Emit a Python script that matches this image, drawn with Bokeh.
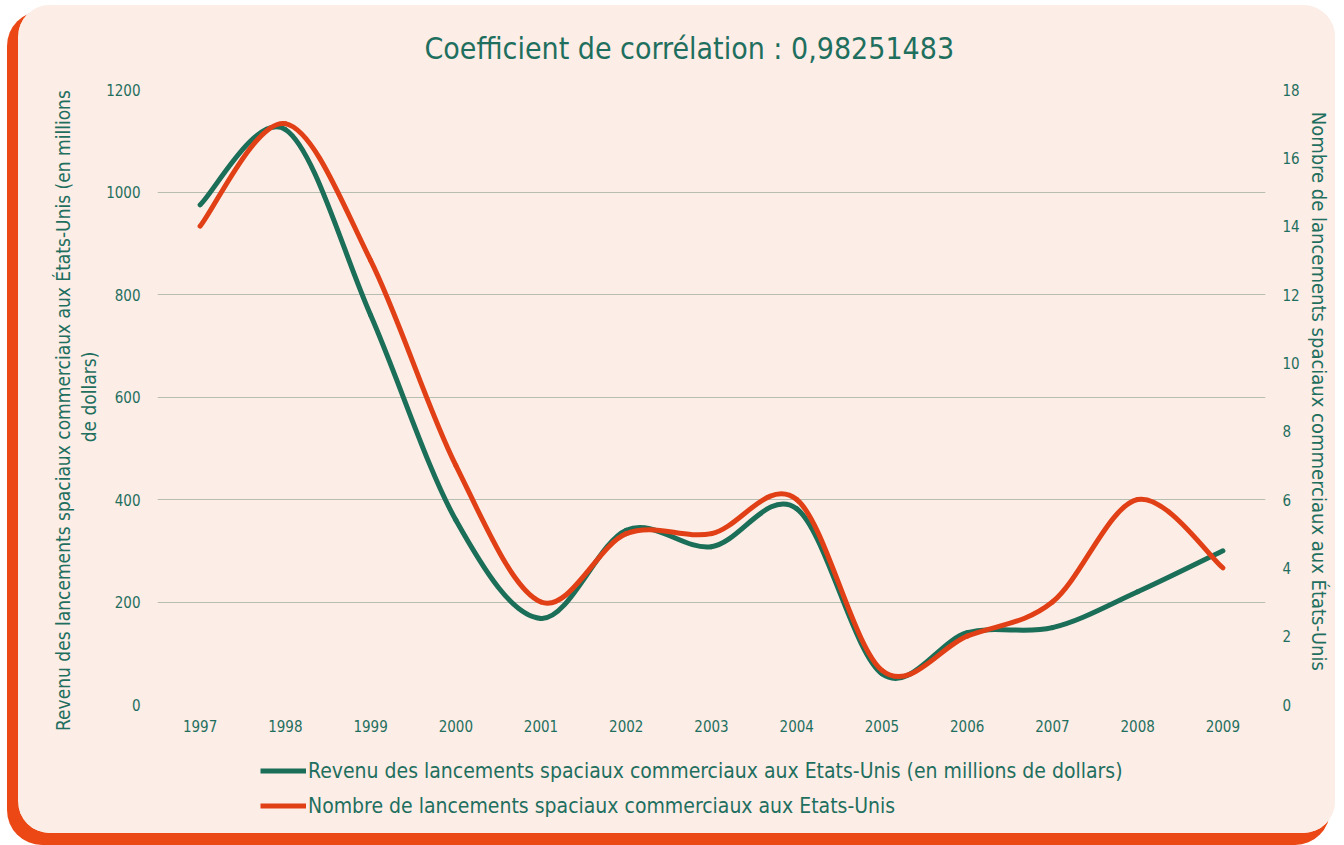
from bokeh.plotting import figure
from bokeh.layouts import column
from bokeh.models import Range1d, LinearAxis, FixedTicker, Legend, LegendItem
from bokeh.embed import file_html
from bokeh.resources import INLINE

# ---------------- data ----------------
years = [1997, 1998, 1999, 2000, 2001, 2002, 2003, 2004, 2005, 2006, 2007, 2008, 2009]
year_labels = [str(y) for y in years]
revenue = [975, 1122, 760, 360, 168, 340, 308, 382, 60, 140, 150, 220, 300]
launches = [14, 17, 13, 7, 3, 5, 5, 6, 1, 2, 3, 6, 4]
left_ticks = [0, 200, 400, 600, 800, 1000, 1200]
right_ticks = [0, 2, 4, 6, 8, 10, 12, 14, 16, 18]
title_text = "Coefficient de corrélation : 0,98251483"
left_label = "Revenu des lancements  spaciaux  commerciaux  aux  États-Unis  (en millions\nde dollars)"
right_label = "Nombre de lancements spaciaux  commerciaux  aux États-Unis"
legend_labels = [
    "Revenu des lancements spaciaux commerciaux aux Etats-Unis (en millions de dollars)",
    "Nombre de lancements spaciaux commerciaux aux Etats-Unis",
]

# ---------------- style ----------------
CARD = "#fcede6"
SHADOW = "#eb4816"
GREEN = "#1b6e58"
RED = "#e14016"
TEXT = "#1f6f5f"
GRID = "#b7bdb1"
FONT = "DejaVu Sans Condensed"
W = 1317


def smooth(xs, ys, t=1.0 / 6.0):
    n = len(xs)
    out = dict(x0=[], y0=[], x1=[], y1=[], cx0=[], cy0=[], cx1=[], cy1=[])
    for i in range(n - 1):
        xp, yp = (xs[i - 1], ys[i - 1]) if i > 0 else (xs[i], ys[i])
        xn, yn = (xs[i + 2], ys[i + 2]) if i + 2 < n else (xs[i + 1], ys[i + 1])
        out["x0"].append(xs[i]); out["y0"].append(ys[i])
        out["x1"].append(xs[i + 1]); out["y1"].append(ys[i + 1])
        out["cx0"].append(xs[i] + (xs[i + 1] - xp) * t)
        out["cy0"].append(ys[i] + (ys[i + 1] - yp) * t)
        out["cx1"].append(xs[i + 1] - (xn - xs[i]) * t)
        out["cy1"].append(ys[i + 1] - (yn - ys[i]) * t)
    return out


p = figure(width=W, height=745,
           x_range=Range1d(1996.5, 2009.5), y_range=Range1d(0, 1200),
           output_backend="svg", toolbar_location=None,
           min_border_left=139, min_border_right=70,
           min_border_top=83, min_border_bottom=46)
p.extra_y_ranges = {"right": Range1d(0, 18)}
p.background_fill_color = CARD
p.border_fill_color = CARD
p.outline_line_color = None

# title
p.title.text = title_text
p.title.text_font = FONT
p.title.text_font_size = "30px"
p.title.text_font_style = "normal"
p.title.text_color = TEXT
p.title.align = "left"
p.title.offset = 267
p.title.standoff = 47

# x axis
xa = p.xaxis[0]
xa.ticker = FixedTicker(ticks=years)
xa.major_label_overrides = dict(zip(years, year_labels))
# y axis left
ya = p.yaxis[0]
ya.ticker = FixedTicker(ticks=left_ticks)
ya.axis_label = left_label
# y axis right
ra = LinearAxis(y_range_name="right", ticker=FixedTicker(ticks=right_ticks))
ra.axis_label = right_label
if "axis_label_orientation" in ra.properties():
    ra.axis_label_orientation = "vertical"
p.add_layout(ra, "right")

for ax in (xa, ya, ra):
    ax.axis_line_color = None
    ax.major_tick_line_color = None
    ax.minor_tick_line_color = None
    ax.major_label_text_font = FONT
    ax.major_label_text_font_size = "15px"
    ax.major_label_text_color = TEXT
    ax.axis_label_text_font = FONT
    ax.axis_label_text_font_style = "normal"
    ax.axis_label_text_color = TEXT
ya.axis_label_text_font_size = "19px"
ra.axis_label_text_font_size = "20px"
xa.major_label_standoff = 9
ya.major_label_standoff = 11
ra.major_label_standoff = 11
ya.axis_label_standoff = 3
ra.axis_label_standoff = 4

p.xgrid.grid_line_color = None
p.ygrid.ticker = FixedTicker(ticks=left_ticks[1:])
p.ygrid.grid_line_color = GRID
p.ygrid.grid_line_width = 1.2

# series
g = smooth(years, revenue)
r = smooth(years, launches)
p.bezier(x0=g["x0"], y0=g["y0"], x1=g["x1"], y1=g["y1"],
         cx0=g["cx0"], cy0=g["cy0"], cx1=g["cx1"], cy1=g["cy1"],
         line_color=GREEN, line_width=5, line_cap="round")
p.bezier(x0=r["x0"], y0=r["y0"], x1=r["x1"], y1=r["y1"],
         cx0=r["cx0"], cy0=r["cy0"], cx1=r["cx1"], cy1=r["cy1"],
         line_color=RED, line_width=5, line_cap="round",
         y_range_name="right")

# legend strip (second figure, same card)
pl = figure(width=W, height=83, x_range=Range1d(0, 1), y_range=Range1d(0, 1),
            output_backend="svg", toolbar_location=None,
            min_border=0, min_border_left=0, min_border_right=0,
            min_border_top=0, min_border_bottom=0)
pl.axis.visible = False
pl.grid.visible = False
pl.outline_line_color = None
pl.background_fill_color = CARD
pl.border_fill_color = CARD
# single-point proxies (draw nothing in the strip, only feed the legend swatches)
lg = pl.line(x=[0], y=[0], line_color=GREEN, line_width=5)
lr = pl.line(x=[0], y=[0], line_color=RED, line_width=5)
legend = Legend(items=[LegendItem(label=legend_labels[0], renderers=[lg]),
                       LegendItem(label=legend_labels[1], renderers=[lr])],
                location=(103, 15), orientation="vertical",
                glyph_width=46, glyph_height=25, label_height=25,
                label_standoff=2, spacing=10, padding=0, margin=0,
                border_line_color=None, background_fill_alpha=0,
                label_text_font=FONT, label_text_font_size="21px",
                label_text_color=TEXT)
pl.add_layout(legend, "center")

layout = column(p, pl, spacing=0)
layout.styles = {
    "margin-left": "18px",
    "margin-top": "5px",
    "border-radius": "32px",
    "overflow": "hidden",
    "background": CARD,
    "box-shadow": "-8px 9px 0 3px " + SHADOW,
}

open("out.html", "w").write(file_html(layout, INLINE))
